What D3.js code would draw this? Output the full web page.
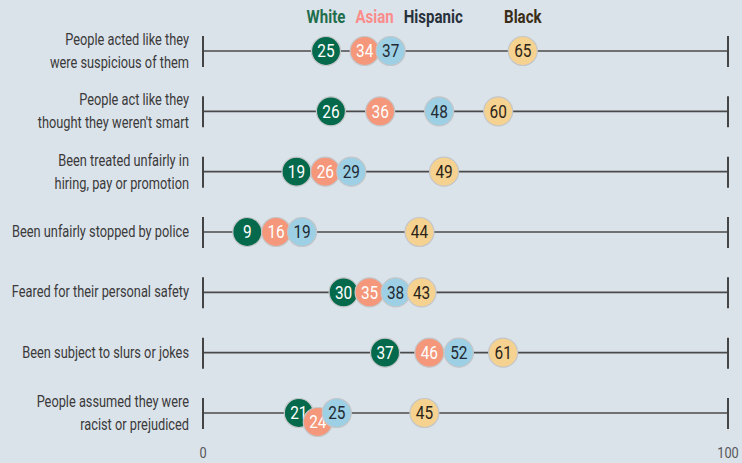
<!DOCTYPE html>
<html><head><meta charset="utf-8">
<script src="https://cdn.jsdelivr.net/npm/d3@7"></script>
<style>
html,body{margin:0;padding:0;background:#dae2ea;}
svg{display:block;}
text{font-family:Roboto,"Liberation Sans",sans-serif;}
</style></head>
<body><svg id="c" width="742" height="463"></svg>
<script>
const categories = [
  "People acted like they|were suspicious of them",
  "People act like they|thought they weren't smart",
  "Been treated unfairly in|hiring, pay or promotion",
  "Been unfairly stopped by police",
  "Feared for their personal safety",
  "Been subject to slurs or jokes",
  "People assumed they were|racist or prejudiced"
];
const groups = ["White","Asian","Hispanic","Black"];
const white    = [25,26,19, 9,30,37,21];
const asian    = [34,36,26,16,35,46,24];
const hispanic = [37,48,29,19,38,52,25];
const black    = [65,60,49,44,43,61,45];
const axisLabels = ["0","100"];

const fills  = {White:"#056a4b",Asian:"#f4977a",Hispanic:"#9dd0e4",Black:"#f6d290"};
const nums   = {White:"#ffffff",Asian:"#ffffff",Hispanic:"#222a33",Black:"#2b2418"};
const legCol = {White:"#1f6e4c",Asian:"#fa8c8a",Hispanic:"#27313b",Black:"#3a2e18"};

const svg = d3.select("#c");
const lineX = d3.scaleLinear().domain([0,100]).range([203,728]);   // axis line
const x = d3.scaleLinear().domain([0,100]).range([203,695]);       // dot positions
const y = d3.scalePoint().domain(categories).range([51,413]);
const r = 14.5, spacing = 26, dropGap = 19, dropY = 9;
const series = [white, asian, hispanic, black];

function ntext(parent, px, py, sx, str){
  return parent.append("text").attr("transform",`translate(${px},${py}) scale(${sx},1)`).text(str);
}

// rows: collision spreading; a node squeezed between two close neighbours drops below the line
const rows = categories.map((c,i)=>{
  let nodes = groups.map((g,j)=>({g, v:series[j][i], want:x(series[j][i]), dy:0}));
  nodes.sort((a,b)=>a.v-b.v);
  for(let k=1;k<nodes.length-1;k++){
    if(nodes[k].want-nodes[k-1].want<16 && nodes[k+1].want-nodes[k].want<16) nodes[k].dy=dropY;
  }
  const gap=(a,b)=> (a.dy||b.dy) ? dropGap : spacing;
  let clusters = nodes.map(n=>({items:[n], center:n.want}));
  const pos = cl => {
    const offs=[0];
    for(let k=1;k<cl.items.length;k++) offs.push(offs[k-1]+gap(cl.items[k-1],cl.items[k]));
    const m=d3.mean(offs);
    return offs.map(o=>cl.center+o-m);
  };
  let changed = true;
  while(changed){
    changed=false;
    for(let k=0;k<clusters.length-1;k++){
      const a=clusters[k], b=clusters[k+1];
      const pa=pos(a), pb=pos(b);
      if(pb[0]-pa[pa.length-1] < gap(a.items[a.items.length-1], b.items[0])){
        const items=a.items.concat(b.items);
        clusters.splice(k,2,{items, center:d3.mean(items,n=>n.want)});
        changed=true;break;
      }
    }
  }
  clusters.forEach(cl=>{pos(cl).forEach((p,k)=>cl.items[k].x=p);});
  return {c, nodes};
});

// row labels
const lab = svg.append("g").attr("fill","#3a3a3a").attr("font-size",16).attr("text-anchor","end");
categories.forEach(c=>{
  const lines = c.split("|");
  if(lines.length===1){
    ntext(lab,189,y(c)+5,0.8,lines[0]);
  } else {
    ntext(lab,189,y(c)-6,0.8,lines[0]);
    ntext(lab,189,y(c)+17,0.8,lines[1]);
  }
});

// lines
const lg = svg.append("g");
categories.forEach(c=>{
  const yy=y(c);
  lg.append("line").attr("x1",lineX(0)).attr("x2",lineX(100)).attr("y1",yy).attr("y2",yy)
    .attr("stroke","#4a4a4a").attr("stroke-width",1.6);
  [0,100].forEach(v=>lg.append("line").attr("x1",lineX(v)).attr("x2",lineX(v))
    .attr("y1",yy-15).attr("y2",yy+16).attr("stroke","#444").attr("stroke-width",2));
});

// axis labels
const axg = svg.append("g").attr("font-size",15).attr("fill","#555").attr("text-anchor","middle");
axisLabels.forEach(d=>ntext(axg,lineX(+d),458,0.85,d));

// dots
rows.forEach(row=>{
  const g = svg.append("g").attr("transform",`translate(0,${y(row.c)})`);
  const n = g.selectAll("g").data(row.nodes).join("g").attr("transform",d=>`translate(${d.x},${d.dy})`);
  n.append("circle").attr("r",r).attr("fill",d=>fills[d.g]).attr("stroke","#c4c6c8").attr("stroke-width",1.2);
  n.append("text").attr("text-anchor","middle").attr("dy","0.36em").attr("font-size",17.5)
    .attr("transform","scale(0.88,1)")
    .attr("fill",d=>nums[d.g]).text(d=>d.v);
});

// legend above first row's dots
const first = rows[0].nodes;
let prevRight = -Infinity;
const legSx = 0.86;
groups.forEach(gName=>{
  const nd = first.find(n=>n.g===gName);
  const t = svg.append("text").attr("font-size",17.5).attr("font-weight","bold")
    .attr("fill",legCol[gName]).attr("text-anchor","start").text(gName);
  const w = t.node().getComputedTextLength()*legSx;
  let left = nd.x - w/2;
  if(left < prevRight + 10) left = prevRight + 10;
  t.attr("transform",`translate(${left},23) scale(${legSx},1)`);
  prevRight = left + w;
});
</script></body></html>
